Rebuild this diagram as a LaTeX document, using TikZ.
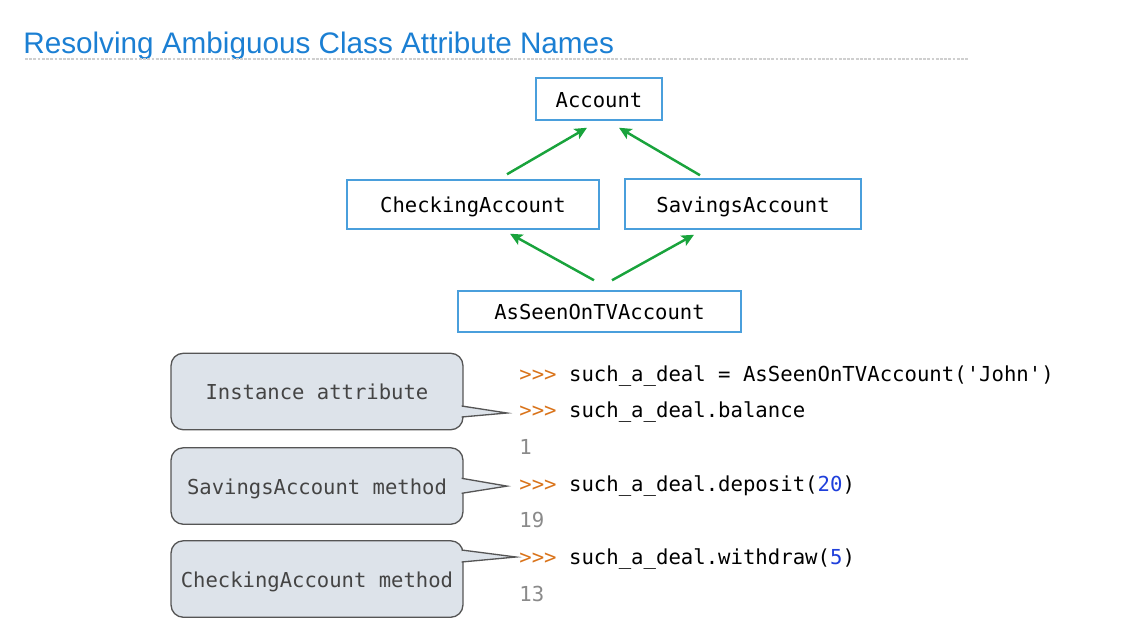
\documentclass[tikz,border=0pt]{standalone}
\usepackage{fontspec}
\setmainfont{Liberation Sans}
\setmonofont{DejaVu Sans Mono}
\usepackage{xcolor}
\usepackage{tikz}
\usetikzlibrary{arrows.meta,calc}
\definecolor{titleBlue}{HTML}{1B7FD3}
\definecolor{classBlue}{HTML}{4A9FDC}
\definecolor{linkGreen}{HTML}{19A33C}
\definecolor{promptOrange}{HTML}{D9731A}
\definecolor{numBlue}{HTML}{1F3FDB}
\definecolor{outGrey}{HTML}{8A8A8A}
\definecolor{noteFill}{HTML}{DDE3EA}
\definecolor{noteLine}{HTML}{555555}
\definecolor{noteText}{HTML}{444444}
\definecolor{ruleGrey}{HTML}{CFCFCF}

\begin{document}
\begin{tikzpicture}[x=0.02cm,y=-0.02cm,
  cls/.style={draw=classBlue,line width=0.85pt,fill=white,inner sep=0pt,
    font=\ttfamily\fontsize{11.7}{14}\selectfont,text height=0.93em,text depth=0pt},
  inh/.style={draw=linkGreen,line width=1.4pt,-{Stealth[length=7pt,width=6.5pt,inset=1.5pt]}},
  note/.style={draw=noteLine,fill=noteFill,line width=0.75pt,rounded corners=7pt,
    minimum width=5.84cm,minimum height=1.53cm,inner sep=0pt,text=noteText,
    font=\ttfamily\fontsize{11.7}{14}\selectfont,text height=0.93em,text depth=0pt},
  notetip/.style={draw=noteLine,fill=noteFill,line width=0.75pt,line join=miter},
  code/.style={anchor=base west,inner sep=0pt,font=\ttfamily\fontsize{11.75}{14}\selectfont}]
\useasboundingbox (0,0) rectangle (1141,625);
% title and rule
\node[anchor=base west,inner sep=0pt,text=titleBlue,font=\fontsize{16.9}{20}\selectfont]
  (title) at (23,53.3) {Resolving Ambiguous Class Attribute Names};
\draw[ruleGrey,line width=0.6pt,dash pattern=on 1.6pt off 0.8pt] (25,59) -- (968,59);
% class hierarchy
\node[cls,minimum width=2.52cm,minimum height=0.84cm] (acc) at (599,99) {Account};
\node[cls,minimum width=5.04cm,minimum height=0.98cm] (chk) at (473,204.5) {CheckingAccount};
\node[cls,minimum width=4.72cm,minimum height=1.0cm] (sav) at (743,204) {SavingsAccount};
\node[cls,minimum width=5.66cm,minimum height=0.82cm] (tv) at (599.5,311.5) {AsSeenOnTVAccount};
\draw[inh] ($(chk.north)+(34,-5)$) -- ($(acc.south)+(-12,7)$);
\draw[inh] ($(sav.north)+(-43,-3)$) -- ($(acc.south)+(20,7)$);
\draw[inh] ($(tv.north)+(-5.5,-10)$) -- ($(chk.south)+(37,4)$);
\draw[inh] ($(tv.north)+(12.5,-10)$) -- ($(sav.south)+(-49,5)$);
% interpreter session
\node[code] (l1) at (519,381) {\textcolor{promptOrange}{>>>} such\_a\_deal = AsSeenOnTVAccount('John')};
\node[code] (l2) at (519,417.7) {\textcolor{promptOrange}{>>>} such\_a\_deal.balance};
\node[code,text=outGrey] (l3) at (519,454.4) {1};
\node[code] (l4) at (519,491.1) {\textcolor{promptOrange}{>>>} such\_a\_deal.deposit(\textcolor{numBlue}{20})};
\node[code,text=outGrey] (l5) at (519,527.8) {19};
\node[code] (l6) at (519,564.5) {\textcolor{promptOrange}{>>>} such\_a\_deal.withdraw(\textcolor{numBlue}{5})};
\node[code,text=outGrey] (l7) at (519,601.2) {13};
% callouts
\node[note] (inst) at (317,391.5) {Instance attribute};
\node[note] (savm) at (317,486) {SavingsAccount method};
\node[note] (chkm) at (317,579) {CheckingAccount method};
\filldraw[notetip] ($(inst.east)+(-2,14.5)$) -- ($(l2.base west)+(-12,-4.7)$) -- ($(inst.east)+(-2,25.5)$);
\filldraw[notetip] ($(savm.east)+(-2,-7.7)$) -- ($(l4.base west)+(-12,-5)$) -- ($(savm.east)+(-2,7.3)$);
\filldraw[notetip] ($(chkm.east)+(-2,-29)$) -- ($(l6.base west)+(-3,-7.5)$) -- ($(chkm.east)+(-2,-17)$);
\end{tikzpicture}
\end{document}
